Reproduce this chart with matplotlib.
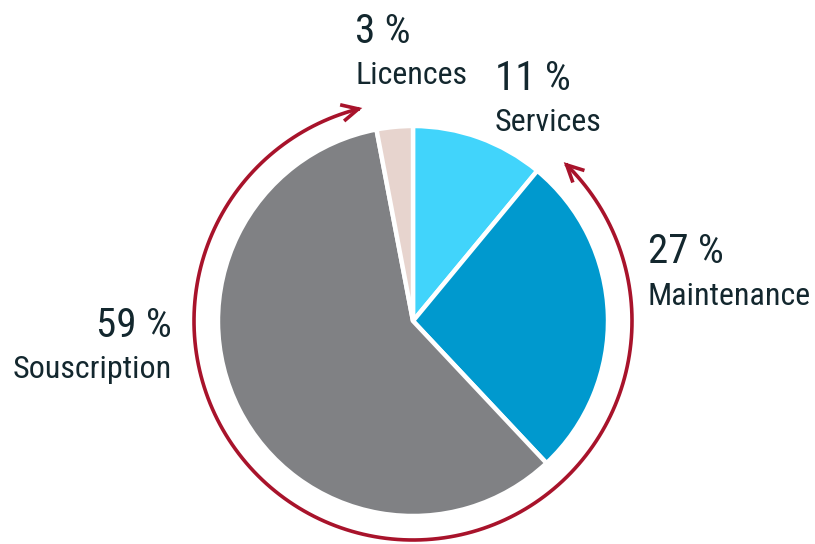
import numpy as np
import matplotlib
matplotlib.use("Agg")
import matplotlib.pyplot as plt
from matplotlib.patches import FancyArrowPatch
from matplotlib.path import Path

categories = ["Services", "Maintenance", "Souscription", "Licences"]
values = [11, 27, 59, 3]
pct_labels = ["11 %", "27 %", "59 %", "3 %"]
colors = ["#41D4FB", "#0099CE", "#808184", "#E7D4CE"]

W, H = 815, 544
fig = plt.figure(figsize=(W / 100, H / 100), dpi=100)
ax = fig.add_axes([0, 0, 1, 1])

cx, cy, r = 413, H - 321, 195
ax.pie(values, colors=colors, startangle=90, counterclock=False,
       center=(cx, cy), radius=r,
       wedgeprops=dict(edgecolor="white", linewidth=3.2))

# red arc with arrows at both ends
ra = 219
th = np.radians(np.linspace(103.4, 360 + 46.5, 400))
pts = np.column_stack([cx + ra * np.cos(th), cy + ra * np.sin(th)])
arc = FancyArrowPatch(path=Path(pts), arrowstyle="<->,head_length=12,head_width=6",
                      color="#A8132B", linewidth=2.6, shrinkA=0, shrinkB=0,
                      mutation_scale=1, capstyle="butt", joinstyle="miter")
ax.add_patch(arc)

font = "Roboto Condensed"
tc = "#13272E"
label_pos = {
    "Licences": (355, 43, 84, "left"),
    "Services": (495, 90, 131, "left"),
    "Maintenance": (648, 263, 305, "left"),
    "Souscription": (172, 337, 378, "right"),
}
for cat, pct in zip(categories, pct_labels):
    x, yp, yl, ha = label_pos[cat]
    ax.text(x, H - yp, pct, fontsize=29.5, family=font, color=tc, ha=ha, va="baseline")
    ax.text(x, H - yl, cat, fontsize=23, family=font, color=tc, ha=ha, va="baseline")

ax.set_xlim(0, W)
ax.set_ylim(0, H)
ax.set_aspect("equal")
ax.axis("off")
fig.savefig("out.png", dpi=100)
